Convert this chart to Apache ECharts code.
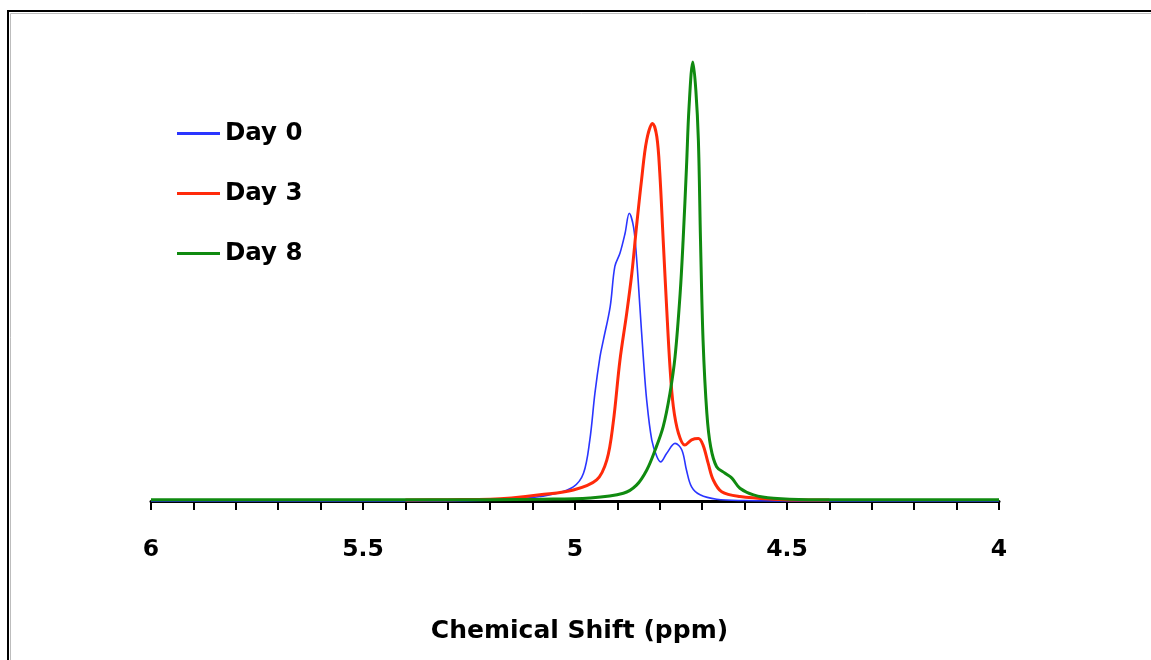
<!DOCTYPE html>
<html>
<head>
<meta charset="utf-8">
<script src="https://cdn.jsdelivr.net/npm/echarts@6/dist/echarts.min.js"></script>
<style>
html,body{margin:0;padding:0;background:#fff;}
#chart{width:1151px;height:660px;}
</style>
</head>
<body>
<div id="chart"></div>
<script>
// ---- data ----
const seriesNames = ['Day 0', 'Day 3', 'Day 8'];

const day0Ppm = [6.0, 5.5, 5.2, 5.1, 5.05, 5.004, 4.98, 4.965, 4.953, 4.941, 4.933, 4.917, 4.906, 4.894, 4.882, 4.872, 4.862, 4.855, 4.847, 4.839, 4.831, 4.819, 4.807, 4.798, 4.784, 4.764, 4.748, 4.737, 4.725, 4.705, 4.666, 4.6, 4.5, 4.0];
const day0Val = [0, 0, 0.2, 0.8, 1.6, 3.2, 6.3, 13.9, 24.5, 32.8, 36.6, 44.2, 53.3, 56.3, 60.8, 65.4, 62.3, 55.5, 44.2, 32.8, 23.0, 13.9, 10.1, 8.9, 10.8, 13.1, 11.6, 7.0, 3.2, 1.4, 0.4, 0.1, 0, 0];

const day3Ppm = [5.4, 5.3, 5.2, 5.15, 5.083, 5.004, 4.949, 4.925, 4.910, 4.894, 4.878, 4.866, 4.855, 4.843, 4.831, 4.817, 4.807, 4.800, 4.792, 4.784, 4.776, 4.768, 4.756, 4.741, 4.725, 4.709, 4.698, 4.686, 4.674, 4.654, 4.611, 4.532, 4.45, 4.4];
const day3Val = [0.2, 0.3, 0.4, 0.7, 1.4, 2.5, 4.8, 9.3, 17.7, 32.0, 42.7, 51.7, 62.3, 73.0, 82.0, 85.8, 82.8, 74.5, 59.3, 44.2, 30.5, 21.4, 15.4, 12.7, 13.9, 14.2, 12.7, 8.6, 4.8, 2.1, 1.0, 0.4, 0.2, 0.2];

const day8Ppm = [6.0, 5.5, 5.2, 5.083, 4.965, 4.886, 4.855, 4.831, 4.811, 4.792, 4.776, 4.764, 4.752, 4.745, 4.737, 4.731, 4.722, 4.715, 4.709, 4.704, 4.698, 4.689, 4.680, 4.666, 4.646, 4.630, 4.611, 4.579, 4.532, 4.45, 4.3, 4.0];
const day8Val = [0.3, 0.3, 0.3, 0.4, 0.7, 1.75, 3.6, 7.0, 11.6, 16.9, 24.5, 32.8, 47.2, 59.3, 76.0, 89.6, 99.8, 93.4, 82.0, 59.3, 36.6, 19.9, 12.3, 7.8, 6.3, 5.2, 2.9, 1.4, 0.6, 0.3, 0.3, 0.3];

const xTickLabels = ['6', '5.5', '5', '4.5', '4'];
const xAxisTitle = 'Chemical Shift (ppm)';

// ---- chart ----
const pair = (xs, ys) => xs.map((x, i) => [x, ys[i]]);
const colors = ['#2a35ff', '#ff2a0a', '#108a10'];
const widths = [1.6, 3, 3];
const FONT = 'DejaVu Sans';

const chart = echarts.init(document.getElementById('chart'), null, {renderer: 'canvas'});
const dataSets = [pair(day0Ppm, day0Val), pair(day3Ppm, day3Val), pair(day8Ppm, day8Val)];

chart.setOption({
  animation: false,
  backgroundColor: '#fff',
  graphic: [
    {type: 'rect', shape: {x: 8, y: 11, width: 1300, height: 800}, style: {fill: 'none', stroke: '#000', lineWidth: 2}, z: 100},
    {type: 'rect', shape: {x: 10.5, y: 13.5, width: 1300, height: 800}, style: {fill: 'none', stroke: '#bdbdbd', lineWidth: 1}, z: 100}
  ],
  legend: {
    orient: 'vertical',
    left: 172,
    top: 116,
    itemGap: 35,
    itemWidth: 43,
    itemHeight: 3,
    icon: 'rect',
    textStyle: {fontFamily: FONT, fontWeight: 'bold', fontSize: 24.5, color: '#000', lineHeight: 24},
    data: seriesNames
  },
  grid: {left: 151, right: 152, top: 61, bottom: 159, containLabel: false},
  xAxis: {
    type: 'value',
    min: 4,
    max: 6,
    interval: 0.5,
    inverse: true,
    axisLine: {show: true, onZero: false, lineStyle: {color: '#000', width: 3}},
    axisTick: {show: true, length: 9, lineStyle: {color: '#000', width: 2}},
    minorTick: {show: true, splitNumber: 5, length: 9, lineStyle: {color: '#000', width: 2}},
    splitLine: {show: false},
    minorSplitLine: {show: false},
    axisLabel: {
      margin: 37,
      fontFamily: FONT, fontWeight: 'bold', fontSize: 23.5, color: '#000',
      formatter: v => {
        const idx = Math.round((6 - v) / 0.5);
        return xTickLabels[idx] !== undefined ? xTickLabels[idx] : '';
      }
    },
    name: xAxisTitle,
    nameLocation: 'middle',
    nameGap: 118,
    nameTextStyle: {fontFamily: FONT, fontWeight: 'bold', fontSize: 25, color: '#000', padding: [0, 0, 0, 9]}
  },
  yAxis: {
    type: 'value',
    min: 0,
    max: 100,
    show: false,
    splitLine: {show: false}
  },
  series: seriesNames.map((n, i) => ({
    name: n,
    type: 'line',
    data: dataSets[i],
    smooth: 0.35,
    showSymbol: false,
    symbol: 'none',
    clip: false,
    color: colors[i],
    lineStyle: {color: colors[i], width: widths[i]},
    z: 2 + i
  }))
});
</script>
</body>
</html>
